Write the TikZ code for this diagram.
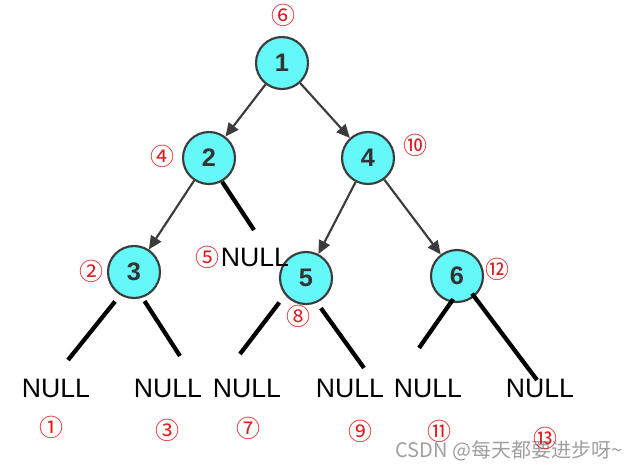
\documentclass[tikz,border=0pt]{standalone}
\usepackage{fontspec}
\setmainfont{Liberation Sans}
\newfontfamily\cjk{Noto Sans CJK SC}
\usetikzlibrary{arrows.meta}
\definecolor{nodecyan}{RGB}{100,248,248}
\definecolor{edgegray}{RGB}{60,60,60}
\definecolor{ordred}{RGB}{225,25,30}
\tikzset{
  tnode/.style={circle,draw=edgegray,line width=1.6pt,fill=nodecyan,minimum size=39pt,inner sep=0pt,
    font=\fontsize{19}{19}\selectfont\bfseries,text=black!80},
  arr/.style={draw=edgegray,line width=1.6pt,-{Triangle[length=10pt,width=9pt]}},
  nulledge/.style={line width=3.2pt},
  nulltext/.style={inner sep=0pt,font=\fontsize{20}{20}\selectfont},
  ord/.style={inner sep=0pt,text=ordred,font=\cjk\fontsize{18}{18}\selectfont}
}
\begin{document}
\begin{tikzpicture}[x=0.75pt,y=-0.75pt]
  \useasboundingbox (0,0) rectangle (636,469);
  % tree nodes
  \node[tnode] (n1) at (282,63) {1};
  \node[tnode] (n2) at (209,158) {2};
  \node[tnode] (n4) at (368,158) {4};
  \node[tnode] (n3) at (134,272) {3};
  \node[tnode] (n5) at (306,278) {5};
  \node[tnode] (n6) at (457,276) {6};
  \draw[arr] (n1) -- (n2); \draw[arr] (n1) -- (n4);
  \draw[arr] (n2) -- (n3);
  \draw[arr] (n4) -- (n5); \draw[arr] (n4) -- (n6);
  % empty children
  \node[nulltext] (z2) at (255,257) {NULL};
  \node[nulltext] (z31) at (56,388) {NULL}; \node[nulltext] (z32) at (168,388) {NULL};
  \node[nulltext] (z51) at (247,388) {NULL}; \node[nulltext] (z52) at (350,388) {NULL};
  \node[nulltext] (z61) at (428,388) {NULL}; \node[nulltext] (z62) at (540,388) {NULL};
  \coordinate (e2) at (254,230);
  \coordinate (e31) at (68,360); \coordinate (e32) at (180,356);
  \coordinate (e51) at (240,354); \coordinate (e52) at (364,368);
  \coordinate (e61) at (419,348); \coordinate (e62) at (537,380);
  \draw[nulledge] (n2.-61) -- (e2);
  \draw[nulledge,shorten <=6pt] (n3.-121) -- (e31);
  \draw[nulledge,shorten <=3pt] (n3.-72) -- (e32);
  \draw[nulledge,shorten <=7pt] (n5.-141) -- (e51);
  \draw[nulledge,shorten <=5pt] (n5.-66) -- (e52);
  \draw[nulledge,shorten <=-3pt] (n6.-103) -- (e61);
  \draw[nulledge,shorten <=-3pt] (n6.-50) -- (e62);
  % visiting order
  \node[text=gray!75,font=\cjk\fontsize{15}{15}\selectfont] (mark) at (509,451) {CSDN @每天都要进步呀\textasciitilde};
  \node[ord] (o6) at (283,15) {⑥};
  \node[ord] (o4) at (162,156) {④}; \node[ord] (o10) at (415,145) {⑩};
  \node[ord] (o2) at (91,271) {②}; \node[ord] (o5) at (207,257) {⑤};
  \node[ord] (o8) at (298,316) {⑧}; \node[ord] (o12) at (497,269) {⑫};
  \node[ord] (o1) at (52,427) {①}; \node[ord] (o3) at (167,430) {③};
  \node[ord] (o7) at (248,428) {⑦}; \node[ord] (o9) at (360,431) {⑨};
  \node[ord] (o11) at (439,431) {⑪}; \node[ord] (o13) at (545,438) {⑬};
\end{tikzpicture}
\end{document}
